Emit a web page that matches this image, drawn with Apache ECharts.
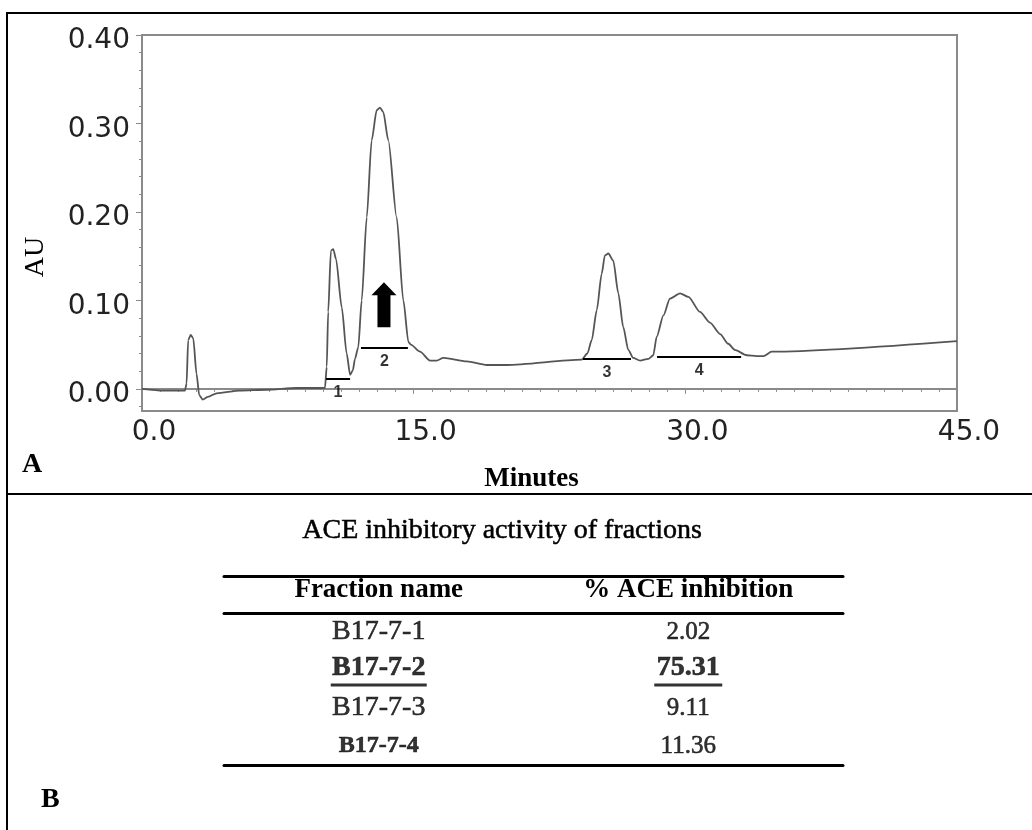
<!DOCTYPE html>
<html>
<head>
<meta charset="utf-8">
<title>HPLC fractions</title>
<script src="https://cdn.jsdelivr.net/npm/echarts@6/dist/echarts.min.js"></script>
<style>
  html, body { margin: 0; padding: 0; background: #fff; }
  #chart { width: 1032px; height: 830px; }
</style>
</head>
<body>
<div id="chart"></div>
<script>
// chromatogram
const times = [
  0, 1.18, 2.37, 2.46, 2.55, 2.69, 2.83, 3.01, 3.16, 3.35, 3.64, 4.12, 5.41, 6.87, 8.53,
  10.1, 10.2, 10.28, 10.43, 10.56, 10.71, 11.03, 11.3, 11.49, 11.64, 11.76, 11.94,
  12.13, 12.41, 12.68, 12.96, 13.14, 13.32, 13.6, 14.06, 14.43, 14.71, 14.84,
  15.35, 15.9, 16.27, 16.64, 17.93, 19.03, 20.14, 24.28, 24.59, 24.83, 25.11, 25.38,
  25.56, 25.75, 26.02, 26.3, 26.57, 26.85, 27.12, 27.5, 27.96, 28.23, 28.42, 28.79,
  29.15, 29.71, 30.17, 30.81, 31.36, 31.92, 32.37, 32.74, 33.39, 33.94, 34.31, 34.77, 45
]
const absorbance = [
  0, -0.002, -0.002, 0.006, 0.055, 0.061, 0.057, 0.017, -0.007, -0.012, -0.009, -0.005, -0.002, -0.001, 0.001,
  0.001, 0.025, 0.087, 0.156, 0.158, 0.147, 0.092, 0.040, 0.016, 0.021, 0.034, 0.047,
  0.100, 0.194, 0.281, 0.315, 0.318, 0.313, 0.281, 0.194, 0.100, 0.053, 0.050,
  0.042, 0.032, 0.032, 0.035, 0.031, 0.027, 0.027, 0.033, 0.040, 0.055, 0.089, 0.130,
  0.151, 0.153, 0.145, 0.108, 0.070, 0.044, 0.035, 0.032, 0.034, 0.038, 0.059, 0.083,
  0.102, 0.108, 0.104, 0.087, 0.075, 0.062, 0.051, 0.044, 0.038, 0.037, 0.037, 0.042, 0.054
]

// collected fractions (bars under the peaks)
const fractionLabels = ['1', '2', '3', '4']
const fractionStart = [10.16, 12.09, 24.35, 28.44]
const fractionEnd = [11.49, 14.68, 27.0, 33.08]
const fractionLevel = [0.012, 0.047, 0.034, 0.036]

const yTicks = [0, 0.1, 0.2, 0.3, 0.4]

// table B
const tableHeaders = ['Fraction name', '% ACE inhibition']
const fractionNames = ['B17-7-1', 'B17-7-2', 'B17-7-3', 'B17-7-4']
const aceInhibition = [2.02, 75.31, 9.11, 11.36]
const bestFraction = 1

const chart = echarts.init(document.getElementById('chart'))

const yMinor = []
for (let v = -0.02; v <= 0.401; v += 0.02) yMinor.push(Math.round(v * 1000) / 1000)

const serif = '"Liberation Serif", "Times New Roman", serif'
const sans = '"DejaVu Sans", sans-serif'

const tableCells = []
fractionNames.forEach((name, i) => {
  const best = i === bestFraction
  tableCells.push({
    value: [0, i],
    label: {
      formatter: best ? '{b|' + name + '}\n{u| }' : name,
      fontWeight: i === 3 ? 'bold' : 'normal',
      fontSize: i === 3 ? 24 : 28
    }
  })
  tableCells.push({
    value: [1, i],
    label: {
      formatter: best ? '{b|' + aceInhibition[i].toFixed(2) + '}\n{v| }' : aceInhibition[i].toFixed(2),
      fontSize: 25
    }
  })
})

const option = {
  animation: false,
  backgroundColor: '#fff',
  grid: [
    { left: 142, top: 35, right: 75, bottom: 419, show: true, borderColor: '#8a8a8a', borderWidth: 2 },
    { left: 224, top: 613, right: 189, bottom: 65 }
  ],
  xAxis: [
    {
      gridIndex: 0,
      type: 'value',
      min: 0,
      max: 45,
      interval: 15,
      name: 'Minutes',
      nameLocation: 'middle',
      nameGap: 55,
      nameTextStyle: { fontFamily: serif, fontWeight: 'bold', fontSize: 27, color: '#000', padding: [0, 36, 0, 0] },
      axisLine: { lineStyle: { color: '#8a8a8a', width: 2 } },
      axisTick: { length: 5, lineStyle: { color: '#8a8a8a' } },
      minorTick: { show: true, splitNumber: 15, length: 3, lineStyle: { color: '#8a8a8a' } },
      splitLine: { show: false },
      axisLabel: {
        margin: 8,
        fontFamily: sans,
        fontSize: 28,
        color: '#222',
        padding: [0, 0, 0, 24],
        formatter: v => v.toFixed(1)
      }
    },
    {
      gridIndex: 1,
      type: 'category',
      data: tableHeaders,
      position: 'top',
      axisLine: { lineStyle: { color: '#000', width: 3 } },
      axisTick: { show: false },
      axisLabel: { margin: 9, fontFamily: serif, fontWeight: 'bold', fontSize: 27, color: '#000' }
    },
    {
      gridIndex: 1,
      type: 'category',
      data: tableHeaders,
      position: 'top',
      offset: 37,
      axisLine: { lineStyle: { color: '#000', width: 3 } },
      axisTick: { show: false },
      axisLabel: { show: false }
    },
    {
      gridIndex: 1,
      type: 'category',
      data: tableHeaders,
      position: 'bottom',
      axisLine: { lineStyle: { color: '#000', width: 3 } },
      axisTick: { show: false },
      axisLabel: { show: false }
    }
  ],
  yAxis: [
    {
      gridIndex: 0,
      type: 'value',
      min: -0.025,
      max: 0.4,
      name: 'AU',
      nameLocation: 'middle',
      nameRotate: 90,
      nameGap: 92,
      nameTextStyle: { fontFamily: serif, fontSize: 28, color: '#000', padding: [0, 68, 0, 0] },
      axisLine: { lineStyle: { color: '#8a8a8a', width: 2 } },
      axisTick: { customValues: yTicks, length: 6, lineStyle: { color: '#8a8a8a' } },
      splitLine: { show: false },
      axisLabel: {
        customValues: yTicks,
        margin: 12,
        fontFamily: sans,
        fontSize: 28,
        color: '#222',
        verticalAlign: 'top',
        lineHeight: 12,
        formatter: v => v.toFixed(2)
      }
    },
    {
      gridIndex: 0,
      type: 'value',
      min: -0.025,
      max: 0.4,
      position: 'left',
      axisLine: { show: false },
      axisTick: { customValues: yMinor, length: 3, lineStyle: { color: '#8a8a8a' } },
      axisLabel: { show: false },
      splitLine: { show: false }
    },
    {
      gridIndex: 1,
      type: 'category',
      data: fractionNames,
      inverse: true,
      show: false
    }
  ],
  series: [
    {
      name: 'Absorbance',
      type: 'line',
      xAxisIndex: 0,
      yAxisIndex: 0,
      data: times.map((t, i) => [t, absorbance[i]]),
      showSymbol: false,
      smooth: 0.25,
      smoothMonotone: 'x',
      lineStyle: { color: '#555', width: 1.8 },
      markLine: {
        silent: true,
        symbol: 'none',
        label: { show: false },
        lineStyle: { color: '#000', width: 2, type: 'solid' },
        data: fractionLabels.map((f, i) => [
          { coord: [fractionStart[i], fractionLevel[i]] },
          { coord: [fractionEnd[i], fractionLevel[i]] }
        ])
      },
      markPoint: {
        silent: true,
        symbol: 'path://M12.5,0 L25,13 L19,13 L19,45 L6,45 L6,13 L0,13 Z',
        symbolSize: [25, 45],
        itemStyle: { color: '#000' },
        label: { show: false },
        data: [{ coord: [13.36, 0.095] }]
      }
    },
    {
      name: 'Fraction labels',
      type: 'scatter',
      xAxisIndex: 0,
      yAxisIndex: 0,
      symbolSize: 0,
      itemStyle: { color: '#fff' },
      data: fractionLabels.map((f, i) => [(fractionStart[i] + fractionEnd[i]) / 2, fractionLevel[i]]),
      label: {
        show: true,
        position: 'bottom',
        distance: 6,
        fontFamily: '"Liberation Sans", Arial, sans-serif',
        fontWeight: 'bold',
        fontSize: 16,
        color: '#000',
        formatter: p => fractionLabels[p.dataIndex]
      }
    },
    {
      name: 'ACE inhibition',
      type: 'scatter',
      xAxisIndex: 1,
      yAxisIndex: 2,
      symbolSize: 0,
      itemStyle: { color: '#fff' },
      data: tableCells,
      label: {
        show: true,
        position: 'inside',
        fontFamily: serif,
        color: '#000',
        textBorderColor: '#000',
        textBorderWidth: 0.6,
        lineHeight: 30,
        rich: {
          b: { fontFamily: serif, fontWeight: 'bold', fontSize: 28, color: '#000', lineHeight: 30, textBorderColor: '#000', textBorderWidth: 0.6 },
          u: { width: 96, height: 3, lineHeight: 4, fontSize: 2, backgroundColor: '#000' },
          v: { width: 68, height: 3, lineHeight: 4, fontSize: 2, backgroundColor: '#000' }
        }
      }
    }
  ],
  graphic: [
    {
      type: 'rect',
      silent: true,
      shape: { x: 7, y: 13, width: 1040, height: 840 },
      style: { fill: null, stroke: '#000', lineWidth: 2 }
    },
    {
      type: 'line',
      silent: true,
      shape: { x1: 7, y1: 494, x2: 1032, y2: 494 },
      style: { stroke: '#000', lineWidth: 2 }
    },
    {
      type: 'text',
      left: 22,
      top: 451,
      style: { text: 'A', font: 'bold 28px ' + serif, fill: '#000' }
    },
    {
      type: 'text',
      left: 41,
      top: 786,
      style: { text: 'B', font: 'bold 28px ' + serif, fill: '#000' }
    },
    {
      type: 'text',
      left: 302,
      top: 516,
      style: { text: 'ACE inhibitory activity of fractions', font: '28px ' + serif, fill: '#000', stroke: '#000', lineWidth: 0.5 }
    }
  ]
}

chart.setOption(option)
</script>
</body>
</html>
